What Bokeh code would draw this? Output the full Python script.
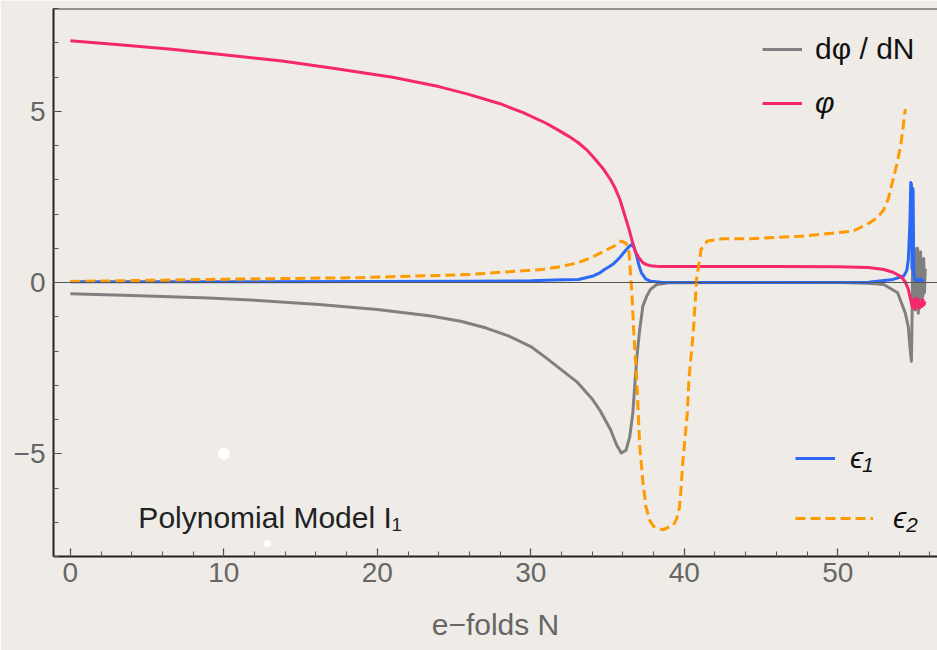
from bokeh.plotting import figure
from bokeh.models import Range1d, FixedTicker, Span, Label, Legend, LegendItem
from bokeh.embed import file_html
from bokeh.resources import INLINE

# ---------------- data ----------------
N_phi = [0, 3, 6.6, 10, 13.8, 17, 21, 24, 25.9, 28, 29.5, 31, 31.9, 32.5, 33.1, 33.7, 34.2,
         34.7, 35.2, 35.5, 35.8, 36.1, 36.4, 36.6, 36.8, 37.0, 37.3, 37.5, 37.8, 38.2, 38.5,
         42, 46, 50, 52, 53, 53.6, 54.1, 54.4, 54.6, 54.75,
         54.87, 54.95, 55.03, 55.1, 55.18, 55.25, 55.33, 55.4, 55.48, 55.55, 55.62, 55.68]
phi = [7.06, 6.95, 6.81, 6.65, 6.47, 6.26, 5.99, 5.72, 5.50, 5.22, 4.96, 4.65, 4.42, 4.26, 4.08,
       3.85, 3.6, 3.33, 3.0, 2.75, 2.43, 2.0, 1.55, 1.22, 0.92, 0.75, 0.58, 0.53, 0.49, 0.475,
       0.47, 0.47, 0.47, 0.46, 0.44, 0.38, 0.3, 0.18, 0.02, -0.2, -0.5,
       -0.72, -0.5, -0.78, -0.45, -0.7, -0.5, -0.75, -0.55, -0.7, -0.5, -0.65, -0.55]

N_dphi = [0, 4, 9, 12.5, 16.2, 20, 23.5, 25.5, 27.1, 28.5, 29.5, 30.0, 31.0, 32.0, 33.0, 34.0,
          34.5, 35.2, 35.6, 35.9, 36.2, 36.45, 36.65, 36.8, 36.95, 37.1, 37.3, 37.55, 37.8,
          38.2, 39, 45, 50, 52, 53, 53.9,
          54.4, 54.6, 54.7, 54.8, 54.84, 54.88, 54.92, 54.96, 55.0, 55.05, 55.1, 55.15, 55.2,
          55.25, 55.3, 55.35, 55.4, 55.45, 55.5, 55.55, 55.6, 55.65, 55.7]
dphi = [-0.33, -0.38, -0.45, -0.53, -0.64, -0.79, -0.98, -1.14, -1.33, -1.55, -1.76, -1.87,
        -2.2, -2.55, -2.9, -3.4, -3.73, -4.3, -4.75, -4.98, -4.9, -4.5, -3.8, -2.84, -2.0, -1.37,
        -0.69, -0.4, -0.2, -0.06, -0.01, 0.0, 0.0, -0.02, -0.06, -0.3,
        -0.89, -1.3, -1.86, -2.3, -1.1, 0.6, 1.6, -0.4, 1.0, -0.8, 0.9, -0.6, 1.0,
        -0.9, 0.7, -0.5, 0.9, -0.7, 0.6, -0.4, 0.7, -0.3, 0.4]

N_eps1 = [0, 10, 20, 26, 30, 31.5, 33.1, 34.0, 34.5, 34.8, 35.1, 35.4, 35.8, 36.2, 36.45, 36.6,
          36.75, 36.9, 37.05, 37.2, 37.5, 37.8, 38.5, 45, 52, 53.6, 54.3, 54.5, 54.6, 54.7,
          54.76, 54.8, 54.84, 54.88, 54.91, 54.95, 55.0, 55.1, 55.2, 55.3, 55.4, 55.5, 55.6]
eps1 = [0.02, 0.02, 0.03, 0.04, 0.05, 0.07, 0.09, 0.18, 0.28, 0.38, 0.46, 0.55, 0.73, 0.95,
        1.07, 1.11, 1.0, 0.77, 0.5, 0.29, 0.1, 0.04, 0.01, 0.0, 0.01, 0.09, 0.19, 0.35, 0.67,
        1.7, 2.92, 2.88, 0.4, 2.75, 2.7, 0.3, 0.1, 0.05, 0.1, 0.05, 0.1, 0.05, 0.08]

N_eps2 = [0, 9, 18.6, 25.9, 30.7, 32.0, 33.1, 34.0, 34.8, 35.5, 35.9, 36.2, 36.4, 36.6, 36.7,
          36.9, 37.1, 37.3, 37.5, 37.75, 38.0, 38.6, 39.3, 39.5, 39.7, 39.8, 39.9, 40.2, 40.3,
          40.6, 40.8, 41.1, 41.5, 42.5, 44.3, 47.6, 51.0, 52.1, 52.6, 53.0, 53.3, 53.6, 53.85,
          54.1, 54.25, 54.4]
eps2 = [0.03, 0.09, 0.14, 0.23, 0.38, 0.47, 0.58, 0.74, 0.92, 1.08, 1.21, 1.15, 0.88, -0.4,
        -1.37, -2.84, -4.79, -5.8, -6.54, -6.95, -7.12, -7.22, -7.08, -6.9, -6.54, -5.95, -5.26,
        -3.8, -2.84, -1.37, 0.09, 0.97, 1.21, 1.28, 1.28, 1.35, 1.50, 1.75, 1.9, 2.13, 2.45,
        3.0, 3.45, 3.99, 4.5, 5.06]

dot_N = [10.0, 12.84]
dot_y = [-5.0, -7.62]

x_major = [0, 10, 20, 30, 40, 50]
x_minor = list(range(0, 57, 2))
y_major = [-5, 0, 5]
y_minor = list(range(-8, 9))
y_tick_labels = {-5: "\u22125", 0: "0", 5: "5"}

model_text = "Polynomial Model I\u2081"
x_label = "e\u2212folds N"

# ---------------- styling ----------------
BG = "#efece7"
FONT = "Liberation Sans"
C_GRAY, C_PINK, C_BLUE, C_ORANGE = "#808080", "#f5286e", "#2c69f5", "#ff9a00"

p = figure(width=937, height=650, x_range=Range1d(-1.1, 56.5), y_range=Range1d(-8, 8),
           output_backend="svg", toolbar_location=None,
           min_border_left=53, min_border_right=0, min_border_top=8, min_border_bottom=94,
           background_fill_color=BG, border_fill_color=BG, x_axis_label=x_label)
p.grid.visible = False
p.outline_line_color = None


def style_axis(ax):
    ax.axis_line_color = "#222222"
    ax.axis_line_width = 2
    ax.major_tick_in = 8
    ax.major_tick_out = 0
    ax.minor_tick_in = 5
    ax.minor_tick_out = 0
    ax.major_tick_line_color = "#444444"
    ax.minor_tick_line_color = "#555555"
    ax.major_tick_line_width = 1.2
    ax.minor_tick_line_width = 1
    ax.major_label_text_font = FONT
    ax.major_label_text_color = "#666666"
    ax.major_label_text_font_size = "28px"
    ax.axis_label_text_font = FONT
    ax.axis_label_text_font_size = "30px"
    ax.axis_label_text_color = "#666666"
    ax.axis_label_text_font_style = "normal"


xax = p.xaxis[0]
yax = p.yaxis[0]
xax.ticker = FixedTicker(ticks=x_major, minor_ticks=x_minor)
yax.ticker = FixedTicker(ticks=y_major, minor_ticks=y_minor)
style_axis(xax)
style_axis(yax)
xax.major_label_standoff = 6
xax.axis_label_standoff = 23
yax.major_label_standoff = 8
yax.major_label_overrides = y_tick_labels

# top frame line and zero axis line
p.add_layout(Span(location=8, dimension="width", line_color="#333333", line_width=2))
p.add_layout(Span(location=0, dimension="width", line_color="#555555", line_width=1))

# curves
r_dphi = p.line(N_dphi, dphi, line_color=C_GRAY, line_width=3, line_join="round")
r_eps1 = p.line(N_eps1, eps1, line_color=C_BLUE, line_width=3, line_join="round")
r_phi = p.line(N_phi, phi, line_color=C_PINK, line_width=3, line_join="round")
r_eps2 = p.line(N_eps2, eps2, line_color=C_ORANGE, line_width=3, line_dash="10 5",
                line_join="round")

# white specks of the paper background
p.scatter(dot_N[:1], dot_y[:1], size=12, fill_color="white", line_color=None)
p.scatter(dot_N[1:], dot_y[1:], size=7, fill_color="white", line_color=None)

# model label
p.add_layout(Label(x=4.43, y=-6.87, text=model_text, text_font=FONT, text_font_size="30px",
                   text_color="#222222", text_baseline="alphabetic"))


def add_legend(label, r, loc, glyph_w, standoff, italic):
    leg = Legend(items=[LegendItem(label=label, renderers=[r])], location=loc,
                 glyph_width=glyph_w, glyph_height=30, label_height=30,
                 label_standoff=standoff, padding=0, margin=0, spacing=0,
                 border_line_color=None, background_fill_alpha=0,
                 label_text_font=FONT, label_text_font_size="30px",
                 label_text_color="#111111",
                 label_text_font_style="italic" if italic else "normal")
    p.add_layout(leg)


add_legend("d\u03c6 / dN", r_dphi, (709, 490), 40, 13, False)
add_legend("\u03c6", r_phi, (709, 436), 40, 13, True)
add_legend("\u03f5\u2081", r_eps1, (742, 81), 40, 15, True)
add_legend("\u03f5\u2082", r_eps2, (742, 21), 78, 20, True)

open("out.html", "w").write(file_html(p, INLINE))
